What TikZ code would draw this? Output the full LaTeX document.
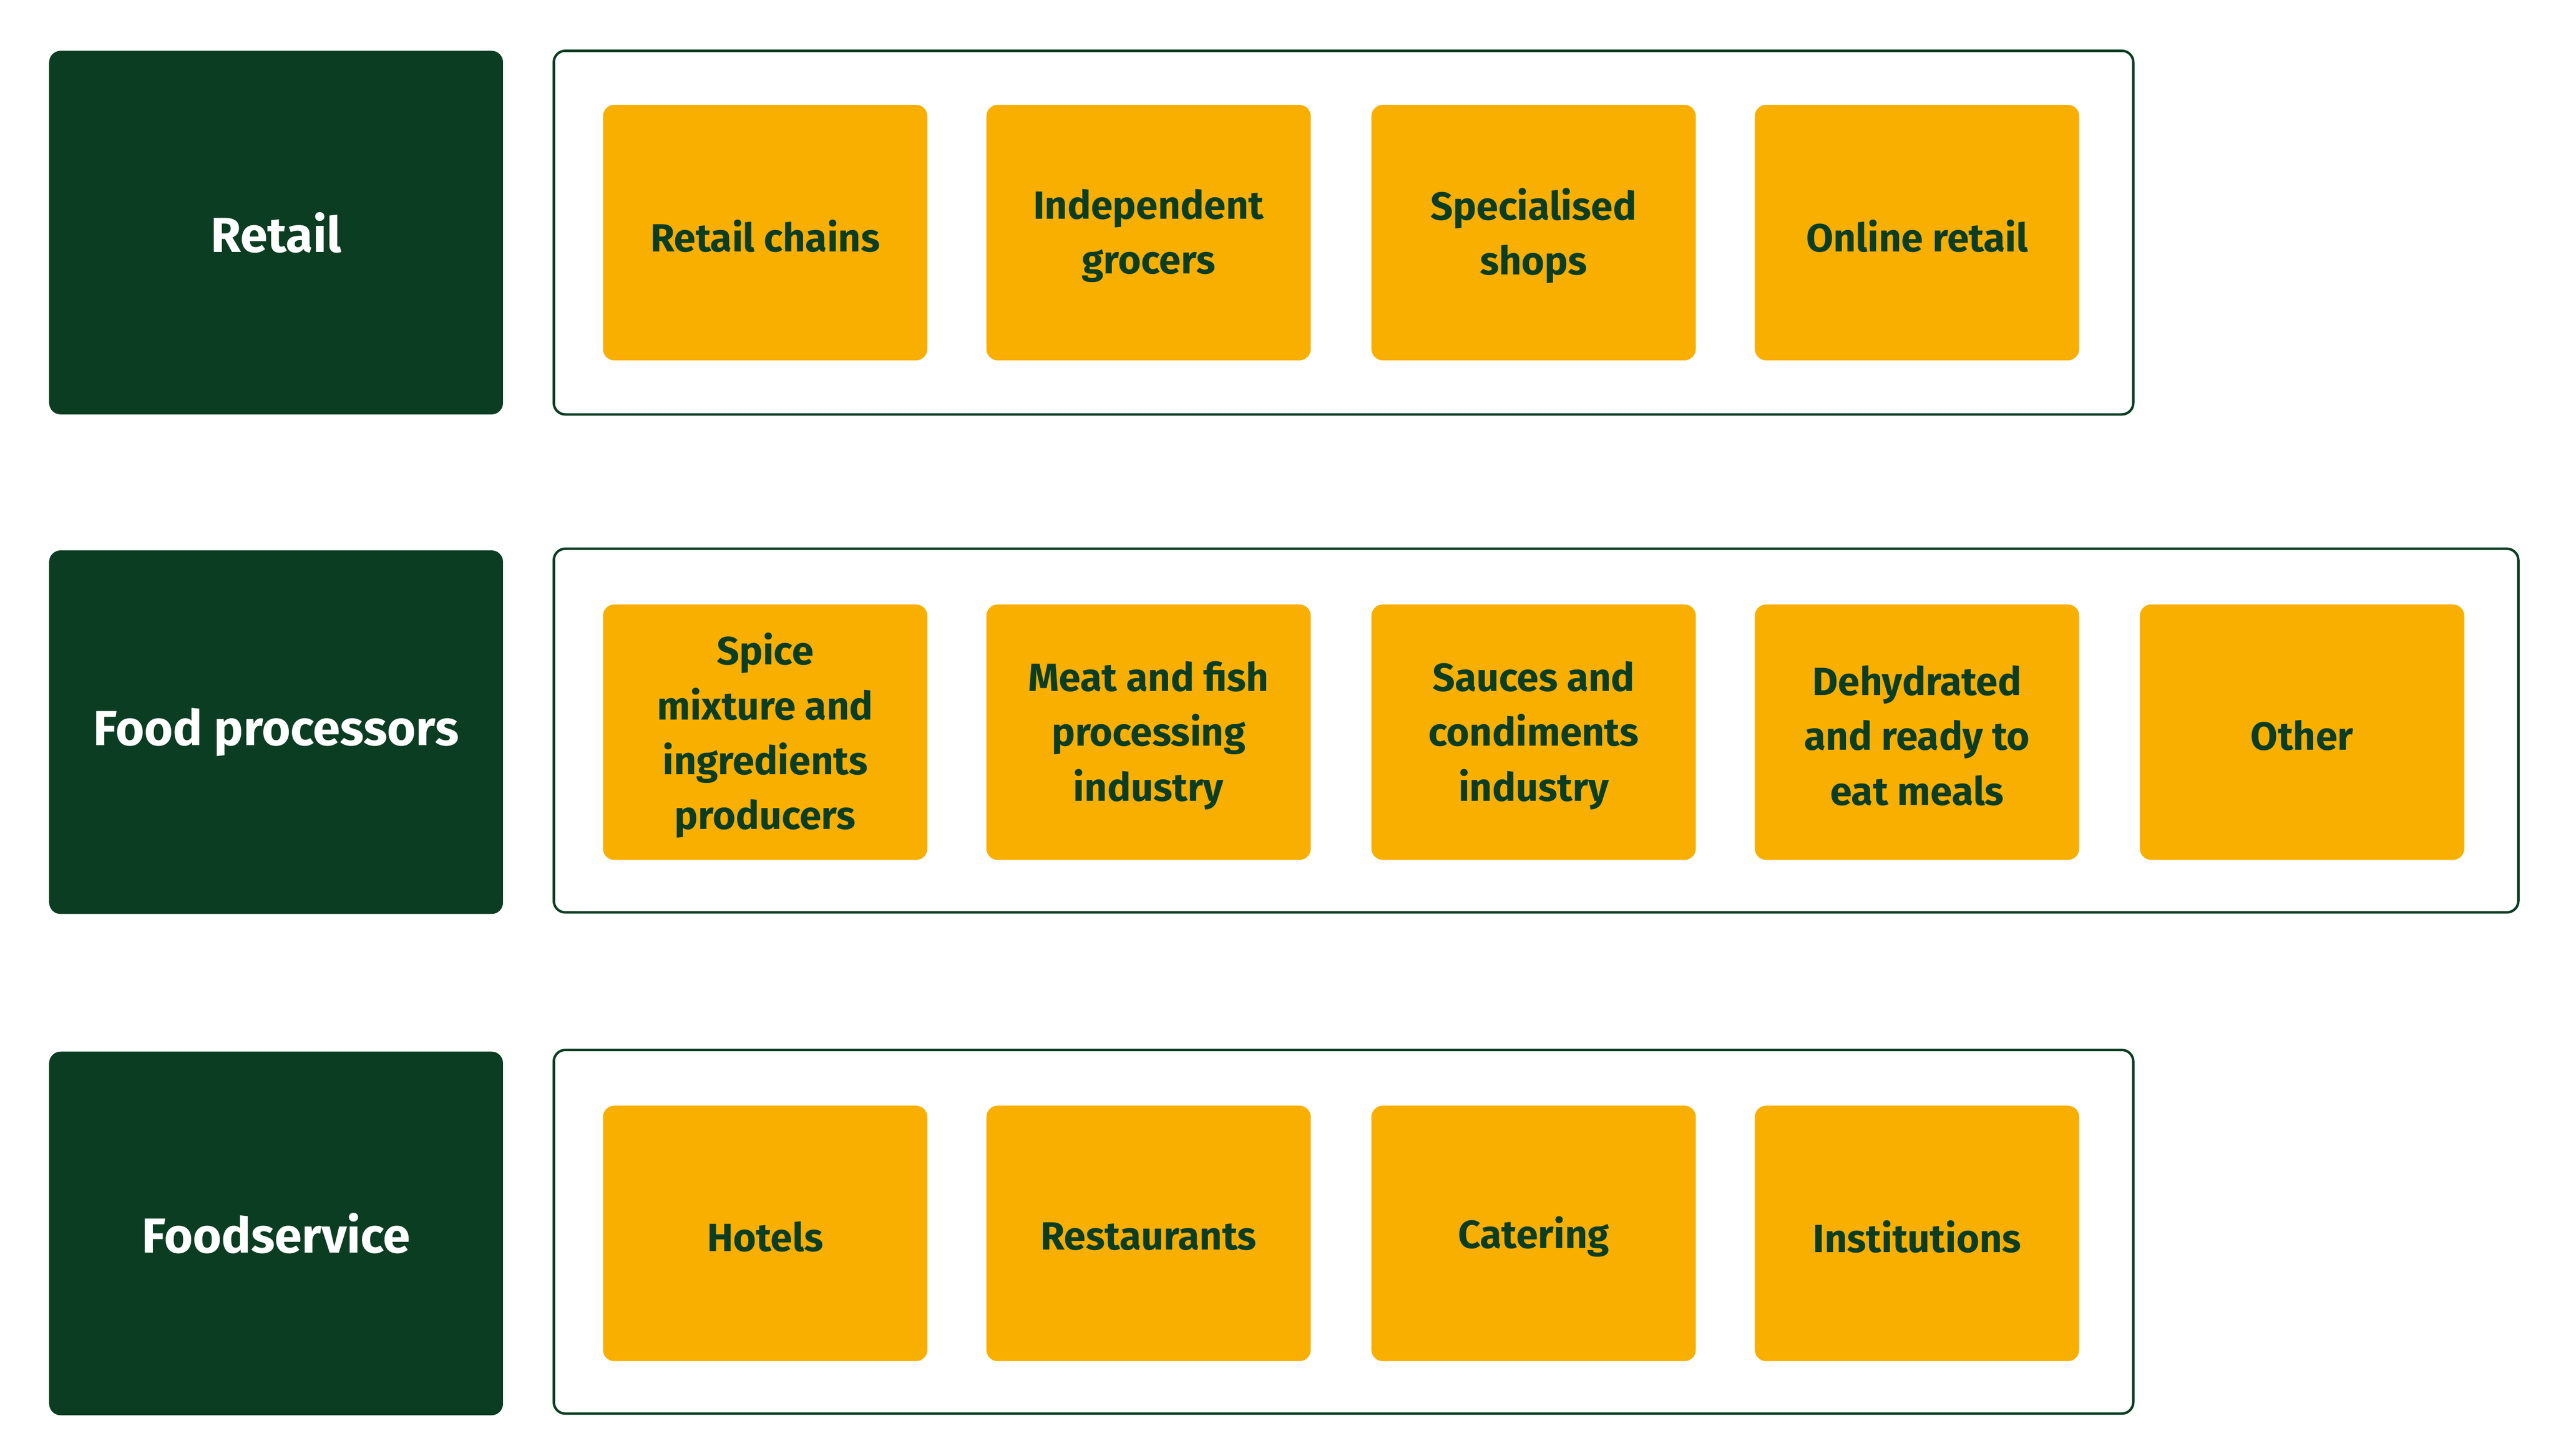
\documentclass[tikz,border=0pt]{standalone}
\usepackage{fontspec}
\setmainfont{Fira Sans}
\definecolor{dg}{HTML}{0B3D22}
\definecolor{og}{HTML}{F8AF00}
\begin{document}
\begin{tikzpicture}[x=1pt,y=-1pt,
 cat/.style={fill=dg,rounded corners=7pt,text=white,font=\fontsize{30}{36}\selectfont\bfseries,align=center},
 frame/.style={draw=dg,line width=1.5pt,rounded corners=7pt},
 item/.style={fill=og,rounded corners=7pt,text=dg,font=\fontsize{24}{33.5}\selectfont\bfseries,align=center}]
\useasboundingbox[fill=white] (0,0) rectangle (1560,888.6);
\def\cat#1#2#3{\fill[dg,rounded corners=7pt] (30,#1) rectangle (307,#1+222);
 \node[cat] (#3) at (168.5,#1+111) {#2};}
\cat{31}{Retail}{c1}
\cat{336}{Food processors}{c2}
\cat{642}{Foodservice}{c3}
\draw[frame] (338,31) rectangle (1302,253);
\draw[frame] (338,335) rectangle (1537,557);
\draw[frame] (338,641) rectangle (1302,863);
\def\it#1#2#3#4{\fill[og,rounded corners=7pt] (#1,#2) rectangle (#1+198,#2+156);
 \node[item] (#4) at (#1+99,#2+80) {#3};}
\it{368}{64}{Retail chains}{a1}
\it{602}{64}{Independent\\grocers}{a2}
\it{837}{64}{Specialised\\shops}{a3}
\it{1071}{64}{Online retail}{a4}
\it{368}{369}{Spice\\mixture and\\ingredients\\producers}{b1}
\it{602}{369}{Meat and fish\\processing\\industry}{b2}
\it{837}{369}{Sauces and\\condiments\\industry}{b3}
\it{1071}{369}{Dehydrated\\and ready to\\eat meals}{b4}
\it{1306}{369}{Other}{b5}
\it{368}{675}{Hotels}{d1}
\it{602}{675}{Restaurants}{d2}
\it{837}{675}{Catering}{d3}
\it{1071}{675}{Institutions}{d4}
\end{tikzpicture}
\end{document}
